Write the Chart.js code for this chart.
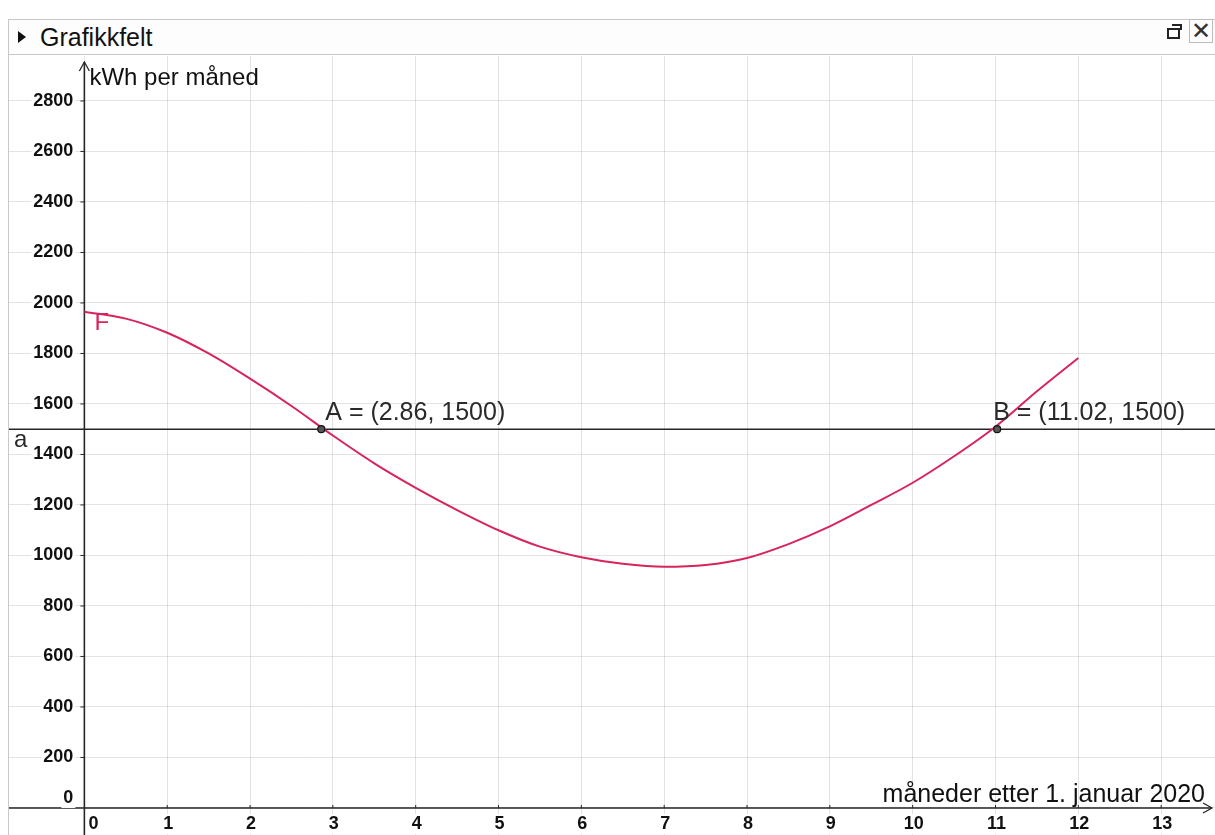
<!DOCTYPE html>
<html lang="no">
<head>
<meta charset="utf-8">
<title>Grafikkfelt</title>
<script src="https://cdn.jsdelivr.net/npm/chart.js@4.4.1/dist/chart.umd.min.js"></script>
<style>
    html, body { margin: 0; padding: 0; background: #fff; }
    body { width: 1215px; height: 835px; position: relative; overflow: hidden; font-family: "Liberation Sans", Arial, sans-serif; }
    .panel-head {
        position: absolute; left: 8px; top: 19px; width: 1207px; height: 36px;
        border-top: 1px solid #c8c8c8; border-bottom: 1px solid #c8c8c8; border-left: 1px solid #c8c8c8;
        box-sizing: border-box; background: #fdfdfd;
    }
    .panel-head .arrow { position: absolute; left: 9px; top: 11px; width: 0; height: 0;
        border-top: 6px solid transparent; border-bottom: 6px solid transparent; border-left: 8px solid #111; }
    .panel-head .title { position: absolute; left: 31px; top: 3px; font-size: 25px; color: #111; }
    .panel-head .restore { position: absolute; left: 1158px; top: 8px; width: 9px; height: 7px; border: 2px solid #222; }
    .panel-head .restore::after { content: ''; position: absolute; left: 3px; top: -6px; width: 8px; height: 4px;
        border-top: 2px solid #222; border-right: 2px solid #222; }
    .panel-head .close { position: absolute; left: 1180px; top: -1px; width: 22px; height: 22px;
        border: 1px solid #bbb; font-size: 24px; line-height: 21px; text-align: center; color: #333; }
    .panel-left { position: absolute; left: 8px; top: 55px; width: 1px; height: 780px; background: #c8c8c8; }
    .chart-box { position: absolute; left: 9px; top: 56px; width: 1206px; height: 779px; }
</style>
</head>
<body>
<div class="panel-head">
    <div class="arrow"></div>
    <div class="title">Grafikkfelt</div>
    <div class="restore"></div>
    <div class="close">&#x2715;</div>
</div>
<div class="panel-left"></div>
<div class="chart-box"><canvas id="geoChart"></canvas></div>

<script>
// curve F (months after 1 Jan 2020 -> kWh per month)
const monthX = [0, 0.5, 1, 1.5, 2, 2.5, 3, 3.5, 4, 4.5, 5, 5.5, 6, 6.5, 7, 7.5, 8, 8.5, 9, 9.5, 10, 10.5, 11, 11.5, 12];
const kwh = [1965, 1938, 1882, 1800, 1700, 1592, 1475, 1365, 1268, 1180, 1100, 1035, 993, 967, 955, 962, 990, 1045, 1115, 1200, 1288, 1393, 1510, 1650, 1782];

// horizontal line a and the two intersections
const levelA = 1500;
const pointNames = ['A', 'B'];
const pointX = [2.86, 11.02];
const pointY = [1500, 1500];

// axes
const xTicks = [0, 1, 2, 3, 4, 5, 6, 7, 8, 9, 10, 11, 12, 13];
const yTicks = [0, 200, 400, 600, 800, 1000, 1200, 1400, 1600, 1800, 2000, 2200, 2400, 2600, 2800];
const xTitle = 'måneder etter 1. januar 2020';
const yTitle = 'kWh per måned';
const xMin = -0.91, xMax = 13.65;
const yMin = -107, yMax = 2978;

const curveColor = '#d8245c';
const axisColor = '#262626';

function withBox(ctx, text, x, y) {
    // GeoGebra puts a white box behind axis numbers
    const w = ctx.measureText(text).width;
    const align = ctx.textAlign;
    let left = x;
    if (align === 'right') left = x - w;
    if (align === 'center') left = x - w / 2;
    ctx.fillStyle = '#fff';
    ctx.fillRect(left - 2, y - 10, w + 4, 20);
    ctx.fillStyle = '#111';
    ctx.fillText(text, x, y);
}

const geoAxes = {
    id: 'geoAxes',
    beforeDatasetsDraw(chart) {
        const { ctx, chartArea: area, scales: { x, y } } = chart;
        const x0 = x.getPixelForValue(0);
        const y0 = y.getPixelForValue(0);
        ctx.save();

        // axis lines
        ctx.strokeStyle = axisColor;
        ctx.lineWidth = 1.6;
        ctx.beginPath();
        ctx.moveTo(x0, area.bottom);
        ctx.lineTo(x0, area.top + 6);
        ctx.moveTo(area.left, y0);
        ctx.lineTo(area.right - 4, y0);
        ctx.stroke();

        // arrow heads
        ctx.lineWidth = 1.3;
        ctx.beginPath();
        ctx.moveTo(x0 - 5, area.top + 15);
        ctx.lineTo(x0, area.top + 6);
        ctx.lineTo(x0 + 5, area.top + 15);
        ctx.moveTo(area.right - 12, y0 - 5);
        ctx.lineTo(area.right - 3, y0);
        ctx.lineTo(area.right - 12, y0 + 5);
        ctx.stroke();

        // small tick marks
        ctx.lineWidth = 1;
        ctx.beginPath();
        yTicks.forEach(v => {
            if (v === 0) return;
            const py = y.getPixelForValue(v);
            ctx.moveTo(x0 - 4, py);
            ctx.lineTo(x0, py);
        });
        xTicks.forEach(v => {
            if (v === 0) return;
            const px = x.getPixelForValue(v);
            ctx.moveTo(px, y0 - 3);
            ctx.lineTo(px, y0);
        });
        ctx.stroke();

        // tick labels
        ctx.font = 'bold 18px "Liberation Sans", Arial, sans-serif';
        ctx.textBaseline = 'middle';
        ctx.textAlign = 'right';
        yTicks.forEach(v => {
            const py = v === 0 ? y0 - 10 : y.getPixelForValue(v);
            withBox(ctx, String(v), x0 - 11, py);
        });
        xTicks.forEach(v => {
            const px = x.getPixelForValue(v);
            ctx.textAlign = v === 0 ? 'left' : 'center';
            withBox(ctx, String(v), v === 0 ? px + 4 : px + 1, y0 + 16);
        });

        // axis titles
        ctx.fillStyle = '#111';
        ctx.font = '24px "Liberation Sans", Arial, sans-serif';
        ctx.textAlign = 'left';
        ctx.fillText(yTitle, x0 + 5, area.top + 22);
        ctx.font = '25px "Liberation Sans", Arial, sans-serif';
        ctx.textAlign = 'right';
        ctx.fillText(xTitle, area.right - 10, y0 - 13);
        ctx.restore();
    },

    afterDatasetsDraw(chart) {
        const { ctx, chartArea: area, scales: { x, y } } = chart;
        ctx.save();
        ctx.textBaseline = 'alphabetic';
        ctx.font = '25px "Liberation Sans", Arial, sans-serif';
        ctx.fillStyle = '#2a2a2a';

        pointNames.forEach((name, i) => {
            const px = x.getPixelForValue(pointX[i]);
            const py = y.getPixelForValue(pointY[i]);
            const label = `${name} = (${pointX[i].toFixed(2)}, ${pointY[i]})`;
            ctx.textAlign = 'left';
            ctx.fillText(label, i === 0 ? px + 4 : px - 4, py - 9);
        });

        // name of the line a
        ctx.font = '24px "Liberation Sans", Arial, sans-serif';
        ctx.fillText('a', area.left + 5, y.getPixelForValue(levelA) + 18);

        // name of the function
        ctx.fillStyle = curveColor;
        ctx.font = '24px "Liberation Sans", Arial, sans-serif';
        ctx.fillText('F', x.getPixelForValue(0) + 10, y.getPixelForValue(kwh[0]) + 18);
        ctx.restore();
    }
};

const ctxGeo = document.getElementById('geoChart').getContext('2d');
new Chart(ctxGeo, {
    type: 'scatter',
    data: {
        datasets: [
            {
                label: 'F',
                type: 'line',
                data: monthX.map((m, i) => ({ x: m, y: kwh[i] })),
                borderColor: curveColor,
                borderWidth: 2,
                cubicInterpolationMode: 'monotone',
                pointRadius: 0,
                fill: false,
                order: 2
            },
            {
                label: 'a',
                type: 'line',
                data: [{ x: xMin, y: levelA }, { x: xMax, y: levelA }],
                borderColor: axisColor,
                borderWidth: 1.6,
                pointRadius: 0,
                fill: false,
                order: 3
            },
            {
                label: 'punkter',
                data: pointX.map((px, i) => ({ x: px, y: pointY[i] })),
                pointRadius: 3.5,
                pointBackgroundColor: '#555',
                pointBorderColor: '#111',
                pointBorderWidth: 1.2,
                order: 1
            }
        ]
    },
    options: {
        responsive: true,
        maintainAspectRatio: false,
        animation: false,
        layout: { padding: 0, autoPadding: false },
        plugins: {
            legend: { display: false },
            tooltip: { enabled: false }
        },
        scales: {
            x: {
                type: 'linear',
                min: xMin,
                max: xMax,
                afterBuildTicks: s => { s.ticks = xTicks.map(v => ({ value: v })); },
                ticks: { display: false },
                grid: { color: 'rgba(0, 0, 0, 0.11)', drawTicks: false },
                border: { display: false }
            },
            y: {
                type: 'linear',
                min: yMin,
                max: yMax,
                afterBuildTicks: s => { s.ticks = yTicks.map(v => ({ value: v })); },
                ticks: { display: false },
                grid: { color: 'rgba(0, 0, 0, 0.11)', drawTicks: false },
                border: { display: false }
            }
        }
    },
    plugins: [geoAxes]
});
</script>
</body>
</html>
